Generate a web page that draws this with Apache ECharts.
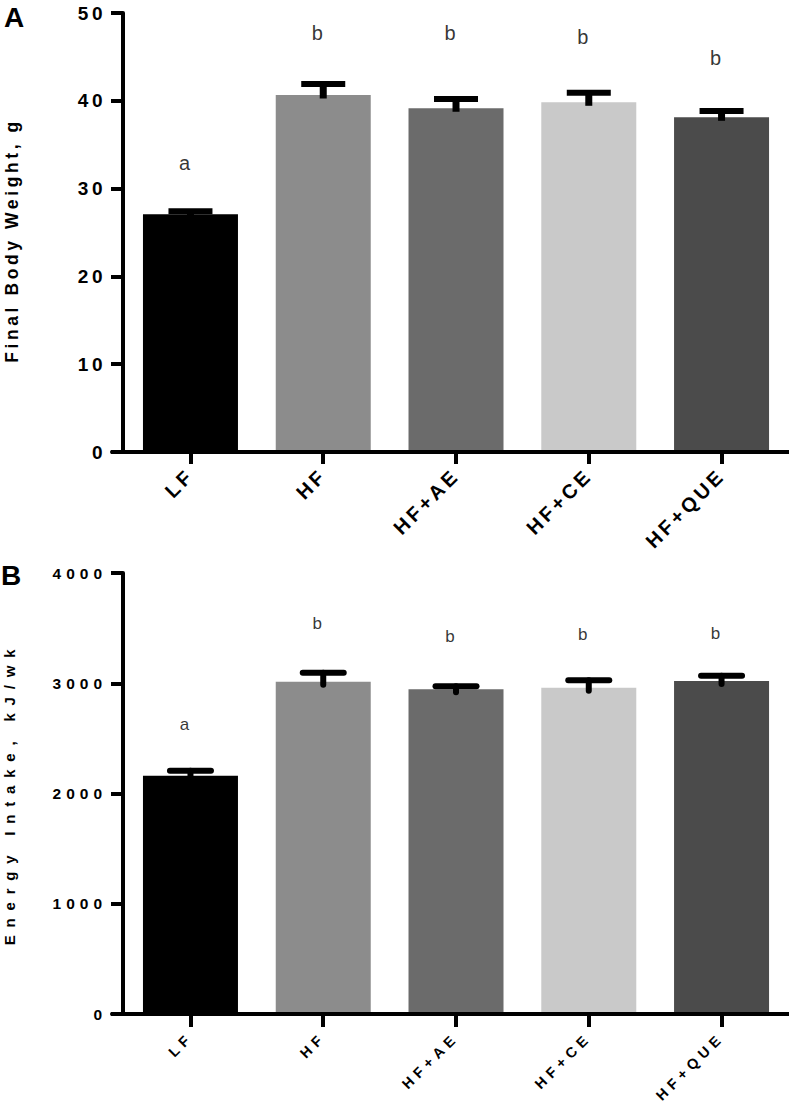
<!DOCTYPE html>
<html>
<head>
<meta charset="utf-8">
<script src="https://cdn.jsdelivr.net/npm/echarts@6/dist/echarts.min.js"></script>
<style>
html,body{margin:0;padding:0;background:#fff;}
#chart{width:789px;height:1113px;}
#chart text[style*="lsA1"]{letter-spacing:3.5px;}
#chart text[style*="lsA2"]{letter-spacing:3.5px;}
#chart text[style*="lsA3"]{letter-spacing:3.6px;}
#chart text[style*="lsB1"]{letter-spacing:5px;}
#chart text[style*="lsB2"]{letter-spacing:5px;}
#chart text[style*="lsB3"]{letter-spacing:7.8px;}
</style>
</head>
<body>
<div id="chart"></div>
<script>
// ---- data ----
const categories = ['LF', 'HF', 'HF+AE', 'HF+CE', 'HF+QUE'];

const weightMean = [27.07, 40.66, 39.15, 39.83, 38.12];
const weightSem = [0.35, 1.25, 1.05, 1.1, 0.72];
const weightLetters = ['a', 'b', 'b', 'b', 'b'];
const weightLetterY = [32.9, 47.7, 47.7, 47.3, 44.9];

const energyMean = [2161, 3014, 2945, 2960, 3020];
const energySem = [46, 82, 27, 67, 47];
const energyLetters = ['a', 'b', 'b', 'b', 'b'];
const energyLetterY = [2630, 3546, 3420, 3438, 3447];

// ---- styles ----
const barColors = ['#000000', '#8c8c8c', '#6b6b6b', '#c9c9c9', '#4b4b4b'];
const FF = 'Liberation Sans';

function errorBarSeries(idx, means, sems, capW, vW, cW, stub, round) {
  return {
    type: 'custom', xAxisIndex: idx, yAxisIndex: idx, z: 4, silent: true,
    data: means.map((m, i) => [i, m, sems[i]]),
    renderItem(params, api) {
      const i = api.value(0), m = api.value(1), e = api.value(2);
      const top = api.coord([i, m + e]);
      const base = api.coord([i, m]);
      const cap = round ? 'round' : 'butt';
      return {
        type: 'group',
        children: [
          { type: 'line', shape: { x1: top[0], y1: top[1], x2: top[0], y2: base[1] + stub },
            style: { stroke: '#000', lineWidth: vW, lineCap: cap } },
          { type: 'line', shape: { x1: top[0] - capW / 2, y1: top[1], x2: top[0] + capW / 2, y2: top[1] },
            style: { stroke: '#000', lineWidth: cW, lineCap: cap } }
        ]
      };
    }
  };
}

function barSeries(idx, means) {
  return {
    type: 'bar', xAxisIndex: idx, yAxisIndex: idx, barWidth: 95, silent: true, z: 2,
    data: means.map((v, i) => [i, v]),
    itemStyle: { color: p => barColors[p.dataIndex] }
  };
}

function letterSeries(idx, ys, letters, size) {
  return {
    type: 'scatter', xAxisIndex: idx, yAxisIndex: idx, symbolSize: 1, silent: true, z: 5,
    itemStyle: { color: 'rgba(0,0,0,0)' },
    data: ys.map((v, i) => [i, v]),
    label: {
      show: true, position: 'inside', offset: [-6, 0],
      formatter: p => letters[p.dataIndex],
      fontSize: size, color: '#000', fontFamily: FF
    }
  };
}

function xAxisCfg(idx, fontSize, tag, margin, tickLen) {
  return {
    type: 'value', gridIndex: idx, min: -0.591, max: 4.508, z: 6,
    axisLine: { show: true, onZero: false, lineStyle: { color: '#000', width: 4 } },
    axisTick: { show: true, customValues: [0, 1, 2, 3, 4], length: tickLen, lineStyle: { color: '#000', width: 4 } },
    axisLabel: {
      customValues: [0, 1, 2, 3, 4],
      formatter: v => categories[Math.round(v)],
      rotate: 45, margin: margin, fontSize: fontSize, fontWeight: 'bold', color: '#000',
      fontFamily: FF + ', ' + tag
    },
    splitLine: { show: false }
  };
}

const chart = echarts.init(document.getElementById('chart'), null, { renderer: 'svg' });
chart.setOption({
  animation: false,
  backgroundColor: '#fff',
  title: [
    { text: 'A', left: 4, top: 3, padding: 0, textStyle: { fontSize: 28, fontWeight: 'bold', color: '#000', fontFamily: FF } },
    { text: 'B', left: 1, top: 561, padding: 0, textStyle: { fontSize: 28, fontWeight: 'bold', color: '#000', fontFamily: FF } }
  ],
  grid: [
    { left: 112, right: 0, top: 13, height: 439, outerBoundsMode: 'none' },
    { left: 112, right: 0, top: 573, height: 441, outerBoundsMode: 'none' }
  ],
  xAxis: [
    xAxisCfg(0, 20, 'lsA2', 20, 12),
    xAxisCfg(1, 14.5, 'lsB2', 21, 13)
  ],
  yAxis: [
    {
      type: 'value', gridIndex: 0, min: 0, max: 50, interval: 10, offset: -11, z: 6,
      axisLine: { show: true, onZero: false, lineStyle: { color: '#000', width: 4 } },
      axisTick: { show: true, length: 12, lineStyle: { color: '#000', width: 4 } },
      axisLabel: { margin: 17, fontSize: 19, fontWeight: 'bold', color: '#000', fontFamily: FF + ', lsA1',
        formatter: v => String(v) },
      splitLine: { show: false },
      name: 'Final Body Weight, g', nameLocation: 'middle', nameGap: 102,
      nameTextStyle: { fontSize: 17.5, fontWeight: 'bold', color: '#000', fontFamily: FF + ', lsA3', padding: [0, 16, 0, 0] }
    },
    {
      type: 'value', gridIndex: 1, min: 0, max: 4000, interval: 1000, offset: -11, z: 6,
      axisLine: { show: true, onZero: false, lineStyle: { color: '#000', width: 4 } },
      axisTick: { show: true, length: 12, lineStyle: { color: '#000', width: 4 } },
      axisLabel: { margin: 16, fontSize: 15.5, fontWeight: 'bold', color: '#000', fontFamily: FF + ', lsB1',
        formatter: v => String(v) },
      splitLine: { show: false },
      name: 'Energy Intake, kJ/wk', nameLocation: 'middle', nameGap: 106,
      nameTextStyle: { fontSize: 15, fontWeight: 'bold', color: '#000', fontFamily: FF + ', lsB3' }
    }
  ],
  series: [
    barSeries(0, weightMean),
    errorBarSeries(0, weightMean, weightSem, 44, 7, 6, 3.5, false),
    letterSeries(0, weightLetterY, weightLetters, 20),
    barSeries(1, energyMean),
    errorBarSeries(1, energyMean, energySem, 41, 6, 6, 3, true),
    letterSeries(1, energyLetterY, energyLetters, 17)
  ]
});
</script>
</body>
</html>
